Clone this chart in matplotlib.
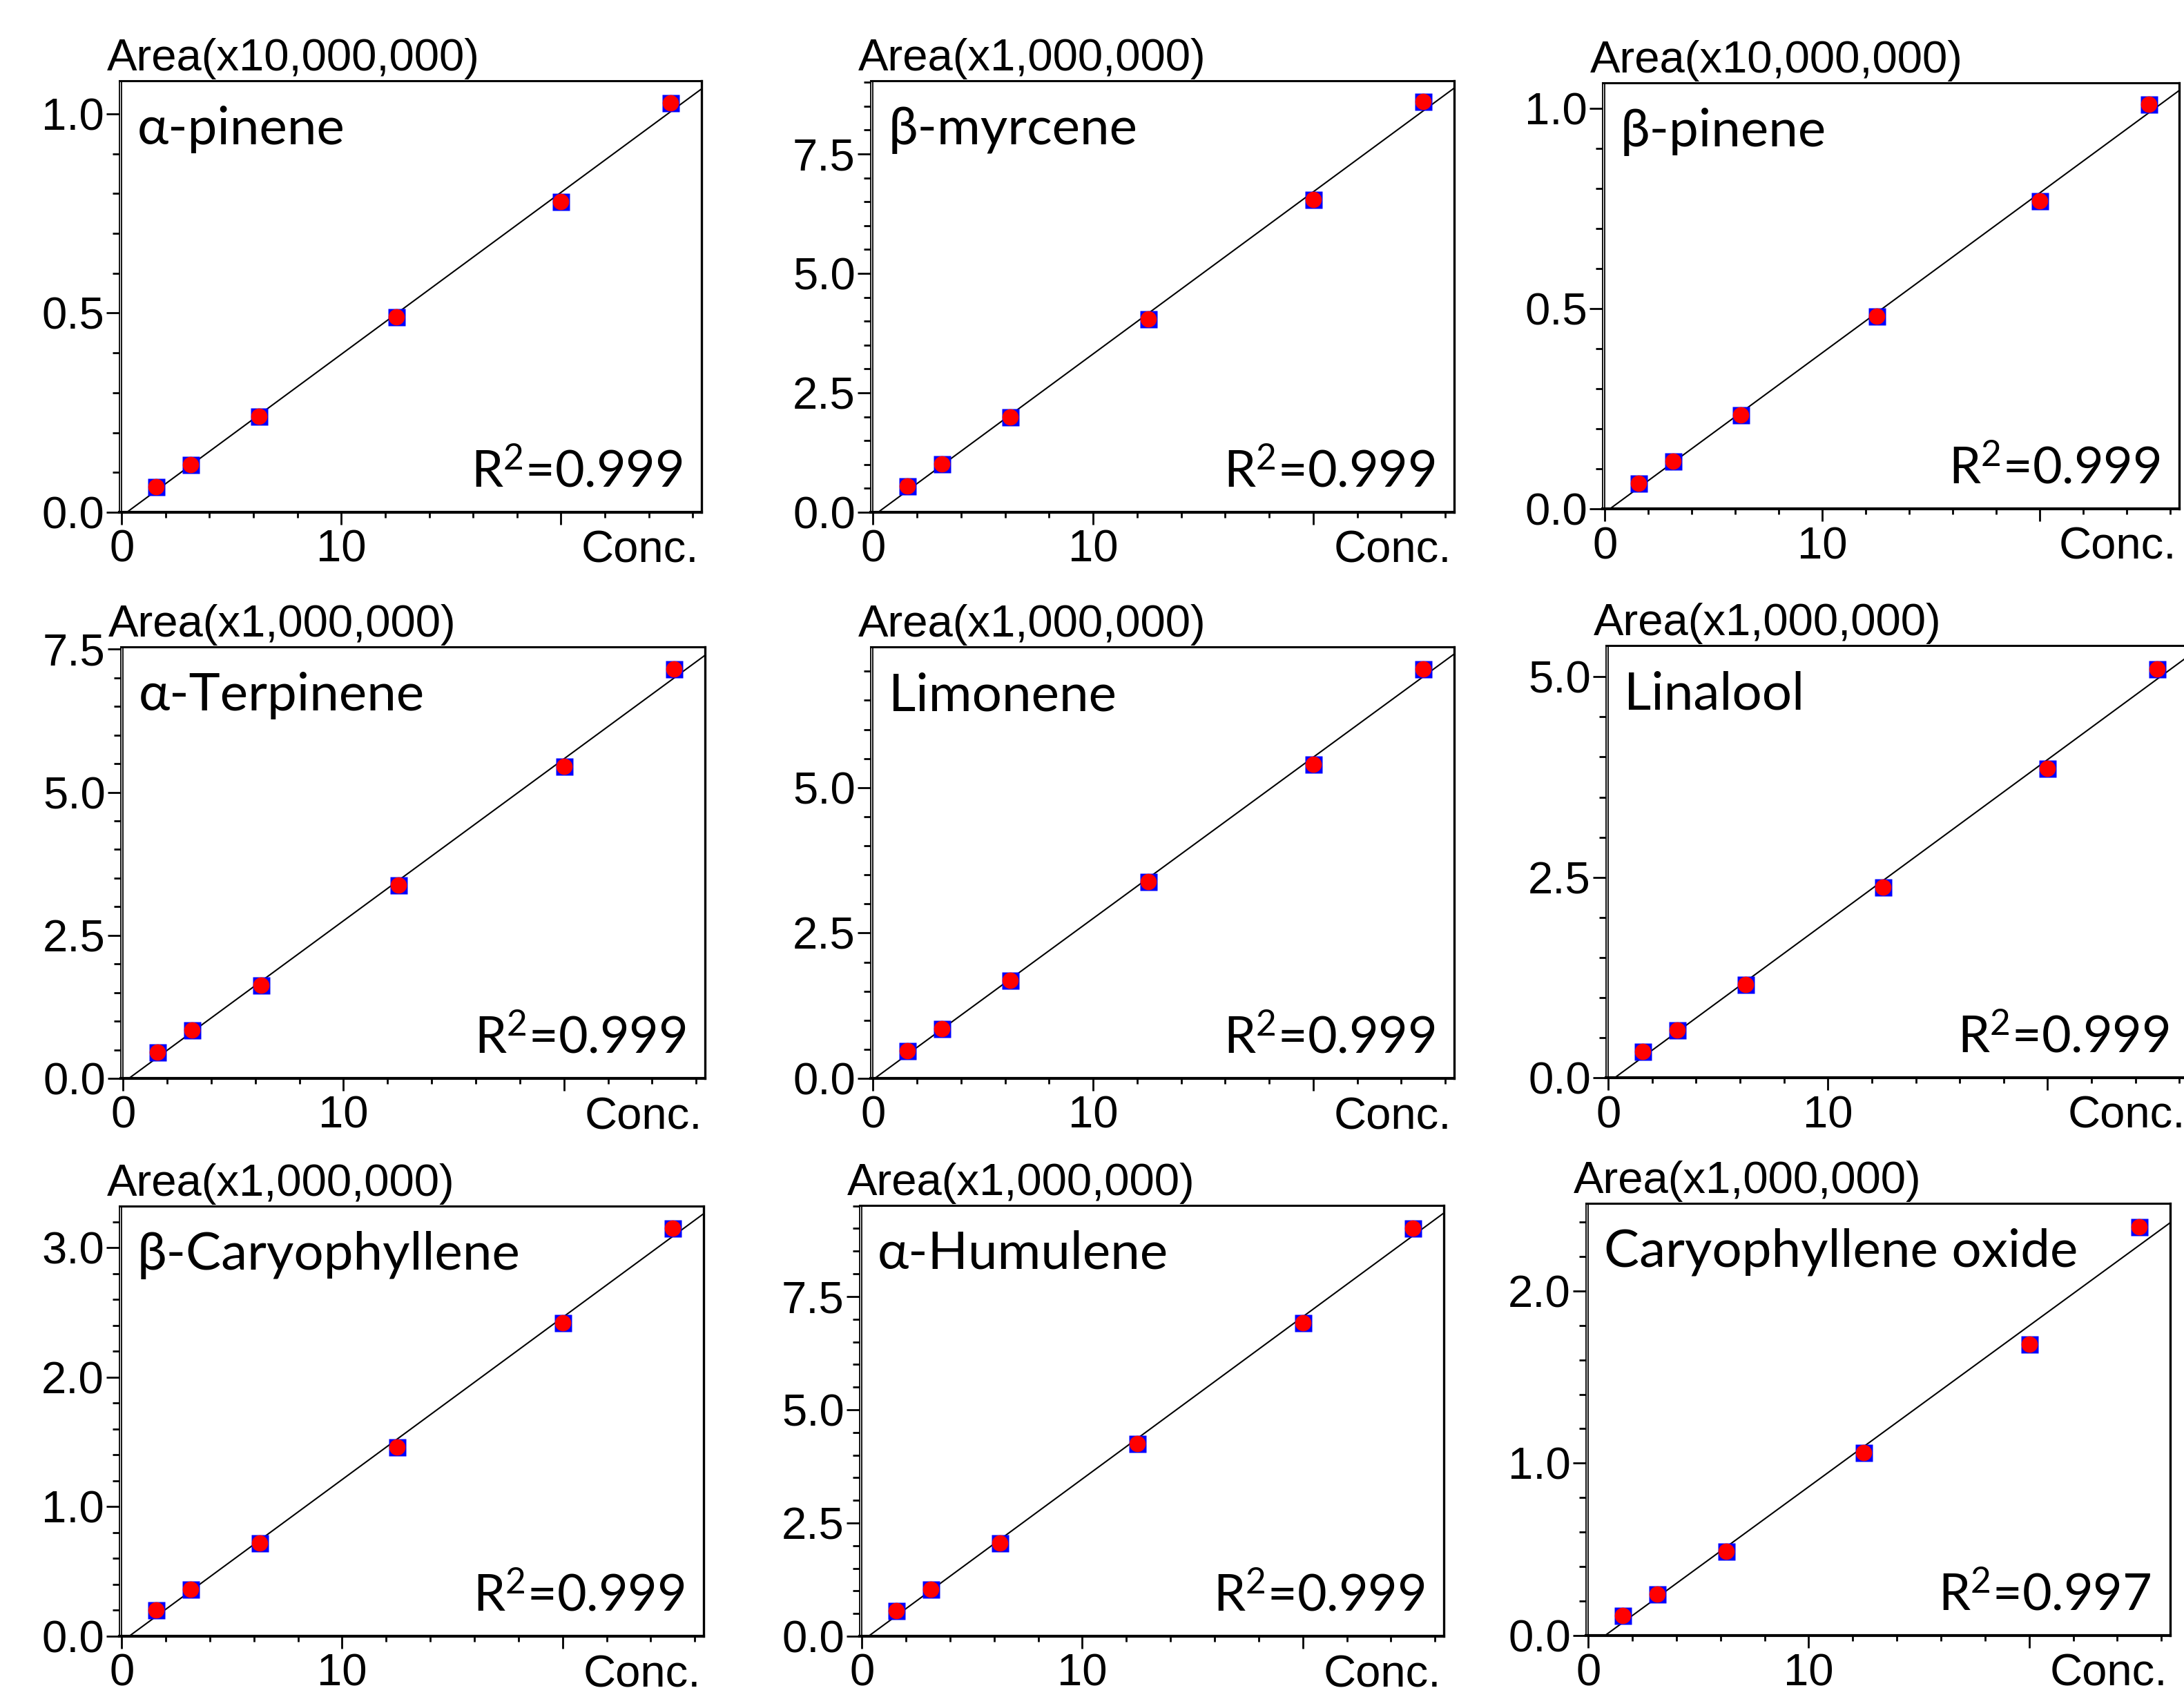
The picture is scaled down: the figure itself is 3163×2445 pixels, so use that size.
import numpy as np
import matplotlib
matplotlib.use('Agg')
import matplotlib.pyplot as plt
from matplotlib.ticker import MultipleLocator, FixedLocator, FixedFormatter, FormatStrFormatter

# ---------------- data ----------------
conc = [1.5625, 3.125, 6.25, 12.5, 20.0, 25.0]

a_pinene = [0.064, 0.120, 0.240, 0.490, 0.780, 1.028]
b_myrcene = [0.55, 1.01, 2.00, 4.05, 6.54, 8.59]
b_pinene = [0.063, 0.119, 0.234, 0.481, 0.768, 1.009]
a_terpinene = [0.46, 0.84, 1.63, 3.38, 5.45, 7.15]
limonene = [0.48, 0.86, 1.68, 3.38, 5.40, 7.04]
linalool = [0.33, 0.59, 1.16, 2.38, 3.86, 5.10]
b_caryophyllene = [0.20, 0.36, 0.72, 1.46, 2.42, 3.15]
a_humulene = [0.57, 1.04, 2.06, 4.25, 6.92, 9.01]
caryophyllene_oxide = [0.118, 0.24, 0.49, 1.06, 1.69, 2.37]

names = ['α-pinene', 'β-myrcene', 'β-pinene',
         'α-Terpinene', 'Limonene', 'Linalool',
         'β-Caryophyllene', 'α-Humulene', 'Caryophyllene oxide']
r2_values = ['0.999', '0.999', '0.999', '0.999', '0.999', '0.999',
             '0.999', '0.999', '0.997']
area_labels = ['Area(x10,000,000)', 'Area(x1,000,000)', 'Area(x10,000,000)',
               'Area(x1,000,000)', 'Area(x1,000,000)', 'Area(x1,000,000)',
               'Area(x1,000,000)', 'Area(x1,000,000)', 'Area(x1,000,000)']
x_tick_values = [0, 10, 20]
x_tick_labels = ['0', '10', '']
x_label = 'Conc.'

series = [a_pinene, b_myrcene, b_pinene, a_terpinene, limonene, linalool,
          b_caryophyllene, a_humulene, caryophyllene_oxide]

# ---------------- layout / style ----------------
W, H, DPI = 3163, 2445, 100
plt.rcParams['font.family'] = ['Liberation Sans', 'DejaVu Sans']
plt.rcParams['mathtext.fontset'] = 'custom'
plt.rcParams['mathtext.rm'] = 'Lato'
plt.rcParams['mathtext.it'] = 'Lato:italic'
plt.rcParams['mathtext.bf'] = 'Lato:bold'

# (left, right, top, bottom) in pixels
boxes = [(173, 1016, 117, 742), (1261, 2106, 117, 742), (2321, 3156, 120, 737),
         (175, 1021, 937, 1562), (1261, 2106, 937, 1562), (2326, 3169, 935, 1561),
         (173, 1019, 1747, 2370), (1245, 2091, 1746, 2370), (2297, 3143, 1743, 2369)]
ytops = [1.083, 9.03, 1.063, 7.54, 7.42, 5.39, 3.32, 9.51, 2.508]
ymaj = [0.5, 2.5, 0.5, 2.5, 2.5, 2.5, 1.0, 2.5, 1.0]
ymin = [0.1, 0.5, 0.1, 0.5, 0.5, 0.5, 0.2, 0.5, 0.2]
XLIM = (-0.1, 26.4)

fig = plt.figure(figsize=(W / DPI, H / DPI), dpi=DPI)

tick_fs = 47
name_fs = 55
r2_fs = 53

for i in range(9):
    l, r, t, b = boxes[i]
    ax = fig.add_axes([l / W, 1 - b / H, (r - l) / W, (b - t) / H])
    ax.set_xlim(*XLIM)
    ax.set_ylim(0, ytops[i])

    x = np.array(conc)
    y = np.array(series[i])
    m, c = np.polyfit(x, y, 1)
    xl = np.array(XLIM)
    ax.plot(xl, m * xl + c, color='black', lw=1.5, zorder=2)
    ax.plot(x, y, 's', ms=18, mfc='#0000ff', mec='none', zorder=3, clip_on=False)
    ax.plot(x, y, 'o', ms=17, mfc='#ff0000', mec='none', zorder=4, clip_on=False)

    # double left axis line
    ax.axvline(0, color='black', lw=1.3, zorder=5)

    for side, lw in (('left', 1.3), ('right', 2.4), ('top', 2.2), ('bottom', 3.0)):
        ax.spines[side].set_linewidth(lw)

    ax.xaxis.set_major_locator(FixedLocator(x_tick_values))
    ax.xaxis.set_major_formatter(FixedFormatter(x_tick_labels))
    ax.xaxis.set_minor_locator(MultipleLocator(2))
    ax.yaxis.set_major_locator(MultipleLocator(ymaj[i]))
    ax.yaxis.set_minor_locator(MultipleLocator(ymin[i]))
    ax.yaxis.set_major_formatter(FormatStrFormatter('%.1f'))

    ax.tick_params(axis='x', which='major', length=13, width=2, pad=5,
                   labelsize=tick_fs, direction='out')
    ax.tick_params(axis='x', which='minor', length=6, width=2, direction='out')
    ax.tick_params(axis='y', which='major', length=14, width=2, pad=2,
                   labelsize=tick_fs, direction='out')
    ax.tick_params(axis='y', which='minor', length=7, width=2, direction='out')

    ax.annotate(area_labels[i], xy=(0, 1), xycoords='axes fraction',
                xytext=(-18, 15), textcoords='offset pixels',
                ha='left', va='baseline', fontsize=tick_fs)
    ax.annotate(x_label, xy=(1, 0), xycoords='axes fraction',
                xytext=(-4, -26), textcoords='offset pixels',
                ha='right', va='top', fontsize=tick_fs)
    ax.annotate(names[i], xy=(0, 1), xycoords='axes fraction',
                xytext=(26, -92), textcoords='offset pixels',
                ha='left', va='baseline', fontsize=name_fs, fontfamily='Lato')
    ax.annotate(r'R$^{2}$=' + r2_values[i], xy=(1, 0), xycoords='axes fraction',
                xytext=(-27, 36), textcoords='offset pixels',
                ha='right', va='baseline', fontsize=r2_fs, fontfamily='Lato')

fig.savefig('out.png', dpi=DPI)
